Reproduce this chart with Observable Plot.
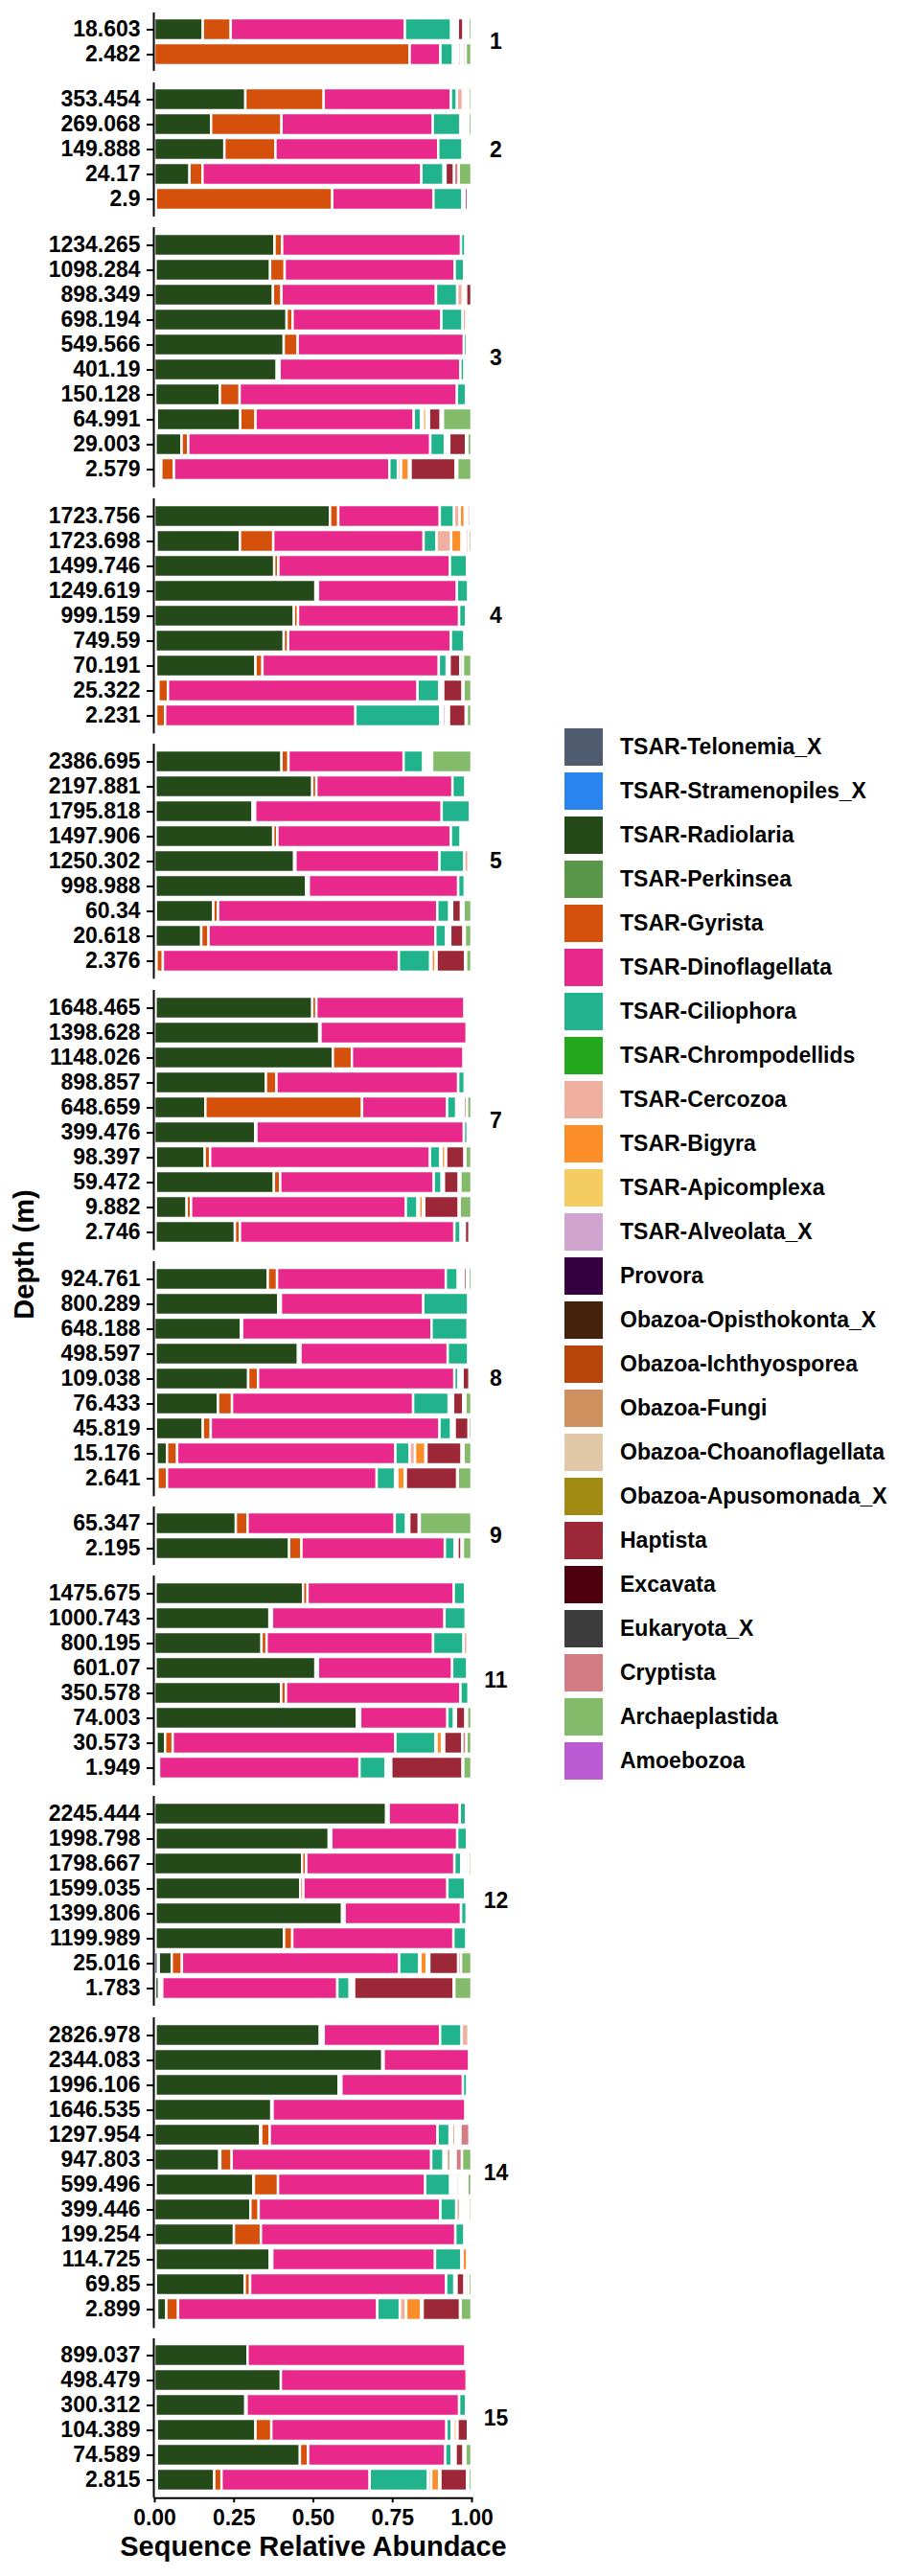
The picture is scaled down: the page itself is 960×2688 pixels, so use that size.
<!DOCTYPE html>
<html><head><meta charset="utf-8">
<script src="https://cdn.jsdelivr.net/npm/d3@7"></script>
<script src="https://cdn.jsdelivr.net/npm/@observablehq/plot@0.6"></script>
<style>
body{margin:0;background:#fff;}
#root{position:relative;width:960px;height:2688px;font-family:"Liberation Sans",Arial,sans-serif;font-weight:bold;color:#000;overflow:hidden;}
#panels{position:absolute;left:0;top:13.3px;}
#panels svg{display:block;overflow:visible;}
#ytitle{position:absolute;left:25px;top:1309px;transform:translate(-50%,-50%) rotate(-90deg);white-space:nowrap;font-size:29px;}
#legend{position:absolute;left:589px;top:756.5px;}
.item{display:flex;align-items:center;height:46px;font-size:23px;white-space:nowrap;}
.sw{width:40px;height:39px;margin-right:18px;flex:none;}
</style></head>
<body><div id="root"><div id="panels"></div><div id="ytitle">Depth (m)</div><div id="legend"></div></div>
<script>
const groups = ["TSAR-Telonemia_X","TSAR-Stramenopiles_X","TSAR-Radiolaria","TSAR-Perkinsea","TSAR-Gyrista","TSAR-Dinoflagellata","TSAR-Ciliophora","TSAR-Chrompodellids","TSAR-Cercozoa","TSAR-Bigyra","TSAR-Apicomplexa","TSAR-Alveolata_X","Provora","Obazoa-Opisthokonta_X","Obazoa-Ichthyosporea","Obazoa-Fungi","Obazoa-Choanoflagellata","Obazoa-Apusomonada_X","Haptista","Excavata","Eukaryota_X","Cryptista","Archaeplastida","Amoebozoa"];
const codes = ["Tel","Str","Rad","Per","Gyr","Din","Cil","Chr","Cer","Big","Api","Alv","Pro","Opi","Ich","Fun","Cho","Apu","Hap","Exc","Euk","Cry","Arc","Amo"];
const colors = ["#4f5b6e","#2a84f0","#244a19","#5a9647","#d4500b","#e8288a","#20b38c","#24a81d","#f0b0a0","#fc8e2a","#f4cc62","#cfa5cf","#350040","#45220c","#b8460c","#cf9060","#e0c8a8","#a08a12","#9c2837","#4f000f","#3c3c3c","#d47c84","#84bb6a","#bb5bd4"];
const stationNames = ["1","2","3","4","5","7","8","9","11","12","14","15"];
const xTicks = [0, 0.25, 0.5, 0.75, 1];
const xTitle = "Sequence Relative Abundace";

const st1 = [
 {depth:"18.603", Rad:.153, Gyr:.088, Din:.549, Cil:.146, Cer:.003, Big:.008, Api:.003, Alv:.003, Pro:.002, Opi:.002, Hap:.018, Exc:.005, Euk:.005, Cry:.005, Arc:.010},
 {depth:"2.482", Gyr:.805, Din:.097, Cil:.040, Cer:.004, Big:.004, Alv:.004, Cho:.004, Hap:.008, Exc:.004, Euk:.004, Cry:.008, Arc:.018}
];
const st2 = [
 {depth:"353.454", Rad:.287, Gyr:.247, Din:.401, Cil:.019, Cer:.019, Alv:.004, Cho:.004, Apu:.004, Hap:.003, Cry:.003, Arc:.009},
 {depth:"269.068", Rad:.179, Gyr:.222, Din:.477, Cil:.087, Cer:.005, Big:.004, Alv:.004, Cho:.004, Hap:.004, Cry:.004, Arc:.010},
 {depth:"149.888", Rad:.221, Gyr:.161, Din:.513, Cil:.077, Cer:.005, Alv:.005, Cho:.005, Hap:.005, Cry:.004, Arc:.004},
 {depth:"24.17", Rad:.111, Gyr:.041, Din:.690, Cil:.070, Cer:.003, Alv:.003, Hap:.027, Cry:.015, Arc:.040},
 {depth:"2.9", Rad:.005, Gyr:.556, Din:.319, Cil:.091, Cer:.004, Alv:.004, Hap:.010, Exc:.003, Cry:.004, Arc:.004}
];
const st3 = [
 {depth:"1234.265", Rad:.379, Gyr:.024, Din:.564, Cil:.014, Cer:.004, Alv:.004, Cho:.004, Hap:.004, Arc:.003},
 {depth:"1098.284", Tel:.004, Rad:.361, Gyr:.046, Din:.536, Cil:.030, Cer:.005, Alv:.005, Cho:.005, Hap:.004, Arc:.004},
 {depth:"898.349", Rad:.374, Gyr:.027, Din:.487, Cil:.067, Cer:.018, Alv:.005, Cho:.005, Hap:.017},
 {depth:"698.194", Rad:.417, Gyr:.019, Din:.469, Cil:.067, Cer:.012, Alv:.004, Cho:.004, Hap:.004, Arc:.004},
 {depth:"549.566", Rad:.408, Gyr:.044, Din:.524, Cil:.010, Cer:.004, Alv:.005, Hap:.005},
 {depth:"401.19", Rad:.386, Per:.004, Gyr:.005, Din:.570, Cil:.013, Cer:.005, Alv:.005, Cho:.004, Hap:.004, Arc:.004},
 {depth:"150.128", Tel:.003, Rad:.204, Gyr:.062, Din:.685, Cil:.029, Cer:.004, Alv:.004, Hap:.005, Arc:.004},
 {depth:"64.991", Tel:.004, Str:.004, Rad:.263, Gyr:.048, Din:.499, Cil:.023, Cer:.006, Big:.011, Alv:.004, Cho:.004, Hap:.037, Exc:.004, Cry:.003, Arc:.090},
 {depth:"29.003", Tel:.004, Rad:.082, Gyr:.021, Din:.763, Cil:.046, Cer:.005, Alv:.005, Cho:.004, Hap:.053, Cry:.004, Arc:.013},
 {depth:"2.579", Tel:.007, Rad:.007, Per:.008, Gyr:.040, Din:.679, Cil:.027, Cer:.010, Big:.025, Api:.005, Hap:.142, Cry:.005, Arc:.045}
];
const st4 = [
 {depth:"1723.756", Rad:.554, Gyr:.026, Din:.320, Cil:.045, Cer:.018, Big:.016, Alv:.004, Cho:.004, Hap:.009, Arc:.004},
 {depth:"1723.698", Tel:.007, Rad:.263, Gyr:.105, Din:.474, Cil:.041, Cer:.046, Big:.033, Alv:.005, Cho:.005, Apu:.004, Cry:.008, Arc:.009},
 {depth:"1499.746", Rad:.378, Gyr:.013, Din:.541, Cil:.054, Cer:.005, Alv:.005, Hap:.004},
 {depth:"1249.619", Rad:.508, Per:.004, Gyr:.004, Din:.438, Cil:.036, Cer:.005, Hap:.005},
 {depth:"999.159", Rad:.440, Gyr:.013, Din:.508, Cil:.022, Cer:.005, Alv:.004, Hap:.004, Arc:.004},
 {depth:"749.59", Tel:.004, Rad:.404, Gyr:.014, Din:.513, Cil:.043, Cer:.004, Alv:.004, Cho:.006, Hap:.004, Arc:.004},
 {depth:"70.191", Tel:.006, Rad:.313, Gyr:.022, Din:.556, Cil:.025, Cer:.005, Alv:.004, Hap:.034, Cry:.008, Arc:.027},
 {depth:"25.322", Tel:.006, Rad:.007, Gyr:.030, Din:.787, Cil:.068, Cer:.004, Alv:.004, Cho:.005, Hap:.061, Cry:.003, Arc:.025},
 {depth:"2.231", Rad:.006, Gyr:.028, Din:.600, Cil:.268, Cer:.003, Api:.005, Alv:.010, Cho:.004, Apu:.005, Hap:.053, Cry:.003, Arc:.015}
];
const st5 = [
 {depth:"2386.695", Tel:.004, Rad:.397, Gyr:.022, Din:.363, Cil:.062, Cer:.007, Big:.004, Api:.004, Alv:.004, Cho:.004, Hap:.005, Arc:.124},
 {depth:"2197.881", Tel:.004, Rad:.494, Gyr:.013, Din:.429, Cil:.041, Cer:.005, Alv:.004, Fun:.006, Arc:.004},
 {depth:"1795.818", Tel:.004, Rad:.306, Per:.004, Gyr:.004, Din:.588, Cil:.089, Cer:.005},
 {depth:"1497.906", Tel:.004, Rad:.371, Gyr:.013, Din:.547, Cil:.031, Cer:.006, Alv:.006, Cho:.006, Hap:.006, Cry:.006, Arc:.004},
 {depth:"1250.302", Rad:.441, Gyr:.004, Din:.454, Cil:.078, Cer:.014, Cho:.005, Arc:.004},
 {depth:"998.988", Tel:.004, Rad:.475, Per:.004, Gyr:.004, Din:.471, Cil:.021, Cer:.005, Alv:.004, Cho:.004, Hap:.004, Arc:.004},
 {depth:"60.34", Tel:.005, Rad:.181, Gyr:.015, Din:.691, Cil:.038, Cer:.005, Alv:.004, Hap:.028, Exc:.004, Cry:.004, Arc:.025},
 {depth:"20.618", Tel:.004, Rad:.144, Gyr:.023, Din:.715, Cil:.034, Cer:.005, Alv:.004, Cho:.004, Hap:.042, Cry:.004, Arc:.021},
 {depth:"2.376", Rad:.007, Gyr:.020, Din:.744, Cil:.099, Cer:.004, Big:.013, Alv:.003, Hap:.090, Cry:.003, Arc:.017}
];
const st7 = [
 {depth:"1648.465", Tel:.004, Rad:.494, Gyr:.013, Din:.467, Cil:.005, Cer:.005, Cho:.004, Hap:.004, Arc:.004},
 {depth:"1398.628", Rad:.520, Gyr:.004, Din:.461, Cil:.005, Cer:.005, Hap:.005},
 {depth:"1148.026", Rad:.563, Gyr:.060, Din:.352, Cil:.005, Cer:.005, Alv:.005, Hap:.005, Arc:.005},
 {depth:"898.857", Tel:.004, Rad:.348, Gyr:.033, Din:.573, Cil:.021, Cer:.005, Alv:.005, Hap:.005, Arc:.006},
 {depth:"648.659", Rad:.161, Gyr:.494, Din:.268, Cil:.029, Cer:.005, Alv:.005, Cho:.005, Hap:.005, Euk:.004, Cry:.010, Arc:.014},
 {depth:"399.476", Rad:.318, Gyr:.004, Din:.654, Cil:.012, Cer:.004, Hap:.004, Arc:.004},
 {depth:"98.397", Tel:.005, Rad:.154, Gyr:.017, Din:.693, Cil:.032, Cer:.005, Big:.012, Alv:.002, Hap:.058, Cry:.003, Arc:.019},
 {depth:"59.472", Tel:.005, Rad:.372, Gyr:.020, Din:.484, Cil:.025, Cer:.004, Alv:.003, Hap:.047, Cry:.005, Arc:.035},
 {depth:"9.882", Tel:.005, Rad:.097, Gyr:.014, Din:.677, Cil:.037, Cer:.005, Big:.012, Alv:.004, Hap:.109, Cry:.003, Arc:.037},
 {depth:"2.746", Tel:.004, Rad:.250, Gyr:.016, Din:.676, Cil:.020, Cer:.005, Alv:.004, Cho:.004, Hap:.015, Arc:.006}
];
const st8 = [
 {depth:"924.761", Tel:.004, Rad:.354, Gyr:.029, Din:.532, Cil:.038, Cer:.006, Alv:.006, Cho:.006, Hap:.010, Cry:.005, Arc:.010},
 {depth:"800.289", Tel:.004, Rad:.387, Per:.004, Gyr:.004, Din:.449, Cil:.142, Cer:.005, Hap:.005},
 {depth:"648.188", Rad:.273, Gyr:.004, Din:.597, Cil:.114, Cer:.006, Hap:.006},
 {depth:"498.597", Tel:.004, Rad:.449, Per:.004, Gyr:.004, Din:.464, Cil:.065, Cer:.005, Hap:.005},
 {depth:"109.038", Tel:.004, Rad:.292, Gyr:.031, Din:.619, Cil:.013, Cer:.005, Alv:.004, Cho:.004, Hap:.022, Arc:.006},
 {depth:"76.433", Tel:.005, Rad:.196, Gyr:.044, Din:.571, Cil:.112, Cer:.006, Alv:.004, Cho:.004, Hap:.032, Cry:.007, Arc:.019},
 {depth:"45.819", Tel:.005, Rad:.148, Gyr:.025, Din:.721, Cil:.037, Cer:.005, Alv:.003, Cho:.003, Hap:.044, Arc:.009},
 {depth:"15.176", Tel:.007, Rad:.033, Gyr:.032, Din:.688, Cil:.045, Cer:.017, Big:.033, Alv:.003, Hap:.111, Cry:.006, Arc:.025},
 {depth:"2.641", Rad:.005, Per:.005, Gyr:.030, Din:.661, Cil:.058, Cer:.007, Big:.024, Alv:.003, Hap:.162, Cry:.002, Arc:.043}
];
const st9 = [
 {depth:"65.347", Tel:.004, Rad:.253, Gyr:.037, Din:.464, Cil:.036, Cer:.005, Alv:.005, Hap:.030, Cry:.003, Arc:.163},
 {depth:"2.195", Tel:.004, Rad:.421, Gyr:.039, Din:.452, Cil:.031, Cer:.005, Alv:.004, Hap:.013, Cry:.004, Arc:.027}
];
const st11 = [
 {depth:"1475.675", Tel:.004, Rad:.465, Gyr:.014, Din:.461, Cil:.036, Cer:.005, Alv:.005, Hap:.005, Arc:.005},
 {depth:"1000.743", Tel:.004, Rad:.359, Per:.004, Gyr:.004, Din:.544, Cil:.067, Cer:.006, Alv:.006, Hap:.006},
 {depth:"800.195", Rad:.338, Gyr:.016, Din:.525, Cil:.096, Cer:.013, Alv:.004, Hap:.004, Arc:.004},
 {depth:"601.07", Tel:.004, Rad:.504, Per:.004, Gyr:.004, Din:.423, Cil:.048, Cer:.005, Hap:.004, Arc:.004},
 {depth:"350.578", Rad:.400, Gyr:.015, Din:.550, Cil:.026, Cer:.005, Hap:.004},
 {depth:"74.003", Tel:.004, Rad:.635, Per:.005, Gyr:.005, Din:.275, Cil:.021, Cer:.006, Hap:.030, Cry:.005, Arc:.014},
 {depth:"30.573", Tel:.007, Rad:.027, Gyr:.024, Din:.702, Cil:.126, Cer:.004, Big:.017, Alv:.004, Cho:.003, Hap:.057, Cry:.013, Arc:.016},
 {depth:"1.949", Rad:.005, Per:.005, Gyr:.005, Din:.632, Cil:.082, Cer:.006, Big:.006, Alv:.006, Hap:.225, Cry:.002, Arc:.026}
];
const st12 = [
 {depth:"2245.444", Rad:.731, Per:.004, Gyr:.004, Din:.224, Cil:.020, Cer:.006, Hap:.006, Arc:.005},
 {depth:"1998.798", Tel:.004, Rad:.546, Per:.004, Gyr:.004, Din:.397, Cil:.031, Cer:.005, Hap:.005, Arc:.004},
 {depth:"1798.667", Rad:.466, Gyr:.013, Din:.467, Cil:.022, Cer:.006, Alv:.005, Cho:.005, Hap:.008, Arc:.008},
 {depth:"1599.035", Tel:.004, Rad:.456, Gyr:.010, Din:.454, Cil:.056, Cer:.005, Alv:.005, Hap:.005, Arc:.005},
 {depth:"1399.806", Tel:.004, Rad:.588, Per:.004, Gyr:.004, Din:.367, Cil:.018, Cer:.005, Hap:.005, Arc:.005},
 {depth:"1199.989", Tel:.004, Rad:.405, Gyr:.026, Din:.508, Cil:.041, Cer:.005, Alv:.005, Hap:.006},
 {depth:"25.016", Tel:.012, Str:.002, Rad:.041, Gyr:.032, Din:.685, Cil:.063, Cer:.004, Big:.020, Alv:.004, Cho:.004, Hap:.091, Cry:.009, Arc:.033},
 {depth:"1.783", Tel:.003, Rad:.012, Per:.005, Gyr:.005, Din:.552, Cil:.039, Cer:.005, Big:.005, Alv:.004, Hap:.314, Cry:.002, Arc:.054}
];
const st14 = [
 {depth:"2826.978", Tel:.004, Rad:.518, Per:.006, Gyr:.006, Din:.367, Cil:.068, Cer:.022, Cho:.005, Arc:.004},
 {depth:"2344.083", Rad:.719, Gyr:.004, Din:.270, Cil:.004, Cer:.003},
 {depth:"1996.106", Tel:.004, Rad:.577, Per:.005, Gyr:.004, Din:.383, Cil:.014, Cer:.005, Hap:.004, Arc:.004},
 {depth:"1646.535", Rad:.369, Gyr:.004, Din:.608, Cil:.005, Cer:.005, Hap:.005, Arc:.004},
 {depth:"1297.954", Rad:.334, Per:.003, Gyr:.027, Din:.529, Cil:.038, Cer:.004, Alv:.005, Fun:.010, Cho:.005, Apu:.005, Hap:.005, Cry:.029, Arc:.006},
 {depth:"947.803", Rad:.205, Per:.003, Gyr:.036, Din:.629, Cil:.039, Cer:.006, Alv:.004, Fun:.012, Cho:.004, Apu:.004, Hap:.004, Exc:.004, Cry:.020, Arc:.030},
 {depth:"599.496", Tel:.004, Rad:.308, Per:.002, Gyr:.076, Din:.464, Cil:.079, Cer:.005, Big:.006, Api:.004, Alv:.004, Fun:.008, Cho:.006, Apu:.004, Hap:.006, Exc:.004, Cry:.007, Arc:.013},
 {depth:"399.446", Rad:.303, Gyr:.026, Din:.573, Cil:.050, Cer:.013, Alv:.004, Cho:.004, Apu:.004, Hap:.004, Exc:.004, Cry:.007, Arc:.008},
 {depth:"199.254", Rad:.251, Gyr:.085, Din:.613, Cil:.029, Cer:.004, Alv:.004, Cho:.004, Hap:.006, Arc:.004},
 {depth:"114.725", Tel:.004, Rad:.360, Per:.004, Gyr:.004, Din:.513, Cil:.083, Cer:.004, Big:.015, Alv:.004, Hap:.005, Arc:.004},
 {depth:"69.85", Tel:.005, Rad:.280, Gyr:.017, Din:.618, Cil:.026, Cer:.004, Alv:.003, Hap:.025, Exc:.004, Cry:.008, Arc:.010},
 {depth:"2.899", Tel:.005, Str:.004, Rad:.029, Gyr:.037, Din:.628, Cil:.071, Cer:.020, Big:.047, Alv:.005, Hap:.118, Cry:.002, Arc:.034}
];
const st15 = [
 {depth:"899.037", Rad:.294, Din:.687, Cil:.005, Cer:.005, Hap:.005, Arc:.004},
 {depth:"498.479", Rad:.399, Din:.586, Cil:.005, Cer:.005, Hap:.005},
 {depth:"300.312", Tel:.004, Rad:.283, Gyr:.004, Din:.670, Cil:.022, Cer:.006, Alv:.006, Hap:.005},
 {depth:"104.389", Tel:.008, Rad:.311, Gyr:.050, Din:.552, Cil:.017, Cer:.006, Big:.010, Alv:.002, Hap:.033, Cry:.006, Arc:.005},
 {depth:"74.589", Tel:.008, Rad:.451, Gyr:.026, Din:.432, Cil:.021, Cer:.004, Alv:.004, Cho:.004, Hap:.025, Exc:.003, Cry:.003, Arc:.019},
 {depth:"2.815", Tel:.008, Rad:.181, Gyr:.023, Din:.467, Cil:.184, Cer:.010, Big:.025, Alv:.004, Hap:.084, Cry:.004, Arc:.010}
];
const stationRows = [st1, st2, st3, st4, st5, st7, st8, st9, st11, st12, st14, st15];

// layout constants
const U = 26.33, C = 17.3, GAP = 11.3, PI = 0.1, PO = C / U - (1 - PI) / 2;
const FONT = "'Liberation Sans', Arial, Helvetica, sans-serif";

function tidy(rows) {
  const out = [];
  for (const r of rows) codes.forEach((c, i) => { if (r[c]) out.push({depth: r.depth, group: groups[i], value: r[c]}); });
  return out;
}

function panelPlot(label, rows, last) {
  const n = rows.length;
  const inner = U * (n - 1) + 2 * C;
  const mb = last ? 80 : GAP;
  const marks = [
    Plot.barX(tidy(rows), Plot.stackX({x: "value", y: "depth", fill: "group", order: groups, offset: "normalize", stroke: "white", strokeWidth: 2.5})),
    Plot.ruleX([0], {dx: -1, stroke: "black", strokeWidth: 2}),
    Plot.axisY({tickSize: 7, tickPadding: 7, dx: -1, strokeWidth: 2, fontSize: 23, fontWeight: "bold", label: null}),
    Plot.text([label], {text: d => d, frameAnchor: "right", dx: 25, textAnchor: "middle", lineAnchor: "middle", fontSize: 23, fontWeight: "bold", fill: "black"})
  ];
  if (last) {
    marks.push(Plot.frame({anchor: "bottom", stroke: "black", strokeWidth: 2}));
    marks.push(Plot.axisX({ticks: xTicks, tickFormat: d3.format(".2f"), tickSize: 5, tickPadding: 7, strokeWidth: 2, fontSize: 23, fontWeight: "bold", label: null}));
    marks.push(Plot.text([xTitle], {text: d => d, frameAnchor: "bottom", dy: 51, textAnchor: "middle", lineAnchor: "middle", fontSize: 29, fontWeight: "bold", fill: "black"}));
  }
  return Plot.plot({
    width: 560, height: inner + mb,
    marginTop: 0, marginBottom: mb, marginLeft: 161, marginRight: 68,
    style: {fontFamily: FONT, fontSize: "23px", fontWeight: "bold", color: "black", background: "transparent", overflow: "visible"},
    x: {domain: [0, 1], axis: last ? undefined : null},
    y: {type: "band", domain: rows.map(r => r.depth), paddingInner: PI, paddingOuter: PO},
    color: {domain: groups, range: colors},
    marks
  });
}

const holder = document.getElementById("panels");
stationRows.forEach((rows, i) => {
  holder.appendChild(panelPlot(stationNames[i], rows, i === stationRows.length - 1));
});

const leg = document.getElementById("legend");
groups.forEach((g, i) => {
  const item = document.createElement("div");
  item.className = "item";
  const sw = document.createElement("span");
  sw.className = "sw";
  sw.style.background = colors[i];
  const tx = document.createElement("span");
  tx.textContent = g;
  item.appendChild(sw);
  item.appendChild(tx);
  leg.appendChild(item);
});
</script>
</body></html>
